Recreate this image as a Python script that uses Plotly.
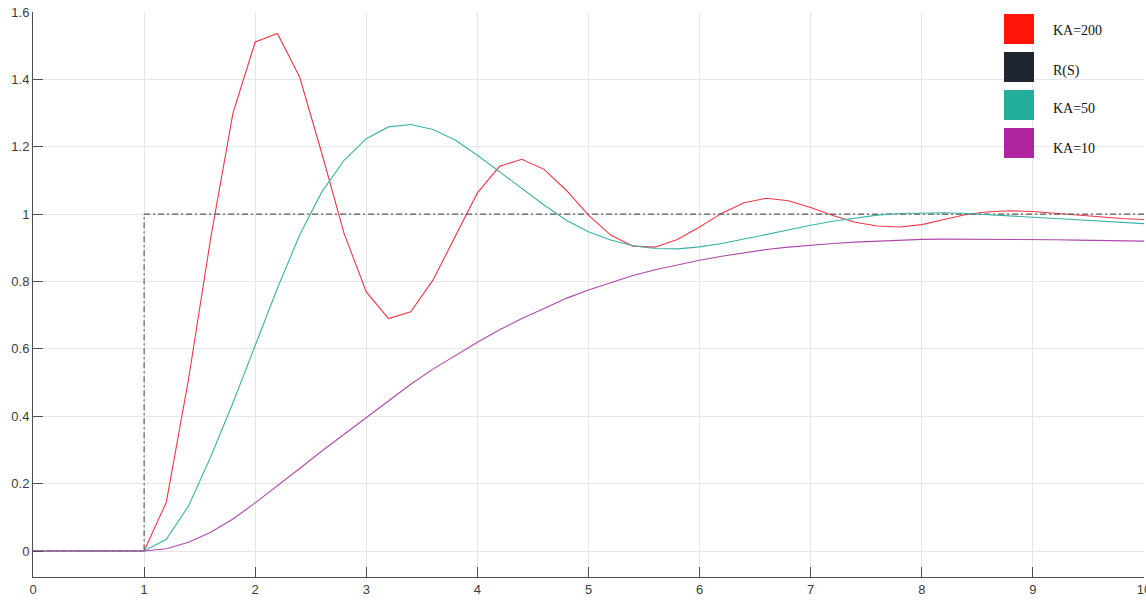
import plotly.graph_objects as go

# Sampled step responses (t in seconds, 0.2 s grid)
t = [round(0.2 * i, 1) for i in range(51)]

ka200 = [0, 0, 0, 0, 0, 0,
         0.145, 0.51, 0.93, 1.30, 1.511, 1.536, 1.407, 1.18, 0.943, 0.769,
         0.690, 0.710, 0.804, 0.933, 1.063, 1.142, 1.163, 1.133, 1.071, 0.997,
         0.938, 0.905, 0.902, 0.925, 0.962, 1.003, 1.034, 1.047, 1.040, 1.020,
         0.996, 0.976, 0.965, 0.962, 0.969, 0.984, 0.999, 1.007, 1.010, 1.008,
         1.003, 0.997, 0.991, 0.987, 0.984]

ka50 = [0, 0, 0, 0, 0, 0,
        0.035, 0.134, 0.28, 0.44, 0.61, 0.78, 0.938, 1.066, 1.160, 1.224,
        1.259, 1.266, 1.251, 1.220, 1.175, 1.126, 1.076, 1.027, 0.982, 0.948,
        0.923, 0.906, 0.898, 0.897, 0.903, 0.913, 0.926, 0.940, 0.954, 0.967,
        0.979, 0.989, 0.997, 1.002, 1.004, 1.004, 1.002, 0.999, 0.995, 0.991,
        0.987, 0.983, 0.979, 0.975, 0.972]

ka10 = [0, 0, 0, 0, 0, 0,
        0.007, 0.026, 0.056, 0.095, 0.143, 0.193, 0.245, 0.297, 0.347, 0.397,
        0.447, 0.495, 0.540, 0.580, 0.620, 0.657, 0.690, 0.720, 0.750, 0.775,
        0.797, 0.818, 0.835, 0.850, 0.863, 0.875, 0.886, 0.895, 0.902, 0.908,
        0.913, 0.917, 0.920, 0.923, 0.925, 0.926, 0.926, 0.926, 0.926, 0.925,
        0.924, 0.923, 0.922, 0.921, 0.920]

# Unit step input
step_t = [0, 1, 1, 10]
step_r = [0, 0, 1, 1]

names = ["KA=200", "R(S)", "KA=50", "KA=10"]
line_colors = ["#EE3646", "#555555", "#3AB3A3", "#AD4AAB"]
key_colors = ["#FF1507", "#1F2630", "#23AE9C", "#B0249E"]

fig = go.Figure()
fig.add_trace(go.Scatter(x=t, y=ka200, mode="lines", name=names[0],
                         line=dict(color=line_colors[0], width=1.1)))
fig.add_trace(go.Scatter(x=step_t, y=step_r, mode="lines", name=names[1],
                         line=dict(color=line_colors[1], width=1.1,
                                   dash="6px,3px,2px,3px")))
fig.add_trace(go.Scatter(x=t, y=ka50, mode="lines", name=names[2],
                         line=dict(color=line_colors[2], width=1.1)))
fig.add_trace(go.Scatter(x=t, y=ka10, mode="lines", name=names[3],
                         line=dict(color=line_colors[3], width=1.1)))

# Key: coloured squares with serif labels at the top right
W, H = 1146, 601
ml, mr, mt, mb = 33, 2, 12, 24
pw, ph = W - ml - mr, H - mt - mb


def px_x(p):
    return (p - ml) / pw


def px_y(p):
    return (H - mb - p) / ph


shapes = []
annotations = []
sq_tops = [14, 52, 90, 128]
label_mid = [31, 71, 109, 148]
for name, col, top, mid in zip(names, key_colors, sq_tops, label_mid):
    shapes.append(dict(type="rect", xref="paper", yref="paper",
                       x0=px_x(1004), x1=px_x(1034),
                       y0=px_y(top + 30), y1=px_y(top),
                       fillcolor=col, line=dict(width=0), layer="above"))
    annotations.append(dict(xref="paper", yref="paper", x=px_x(1051),
                            y=px_y(mid), text=name, showarrow=False,
                            xanchor="left", yanchor="middle",
                            font=dict(family="Liberation Serif", size=14,
                                      color="#111111")))

axis_style = dict(showgrid=True, gridcolor="#E6E6E6", gridwidth=1,
                  zeroline=False, showline=True, linecolor="#505050",
                  linewidth=1, ticks="inside", ticklen=10, tickcolor="#505050",
                  automargin=False, ticklabeloverflow="allow",
                  tickfont=dict(family="Liberation Sans", size=13,
                                color="#3C3C3C"))

fig.update_layout(
    width=W, height=H,
    margin=dict(l=ml, r=mr, t=mt, b=mb, autoexpand=False),
    paper_bgcolor="white", plot_bgcolor="white",
    showlegend=False,
    shapes=shapes, annotations=annotations,
    font=dict(family="Liberation Sans", size=13, color="#3C3C3C"),
    xaxis=dict(range=[0, 10], tickvals=list(range(11)), **axis_style),
    yaxis=dict(range=[-0.077, 1.6],
               tickvals=[0, 0.2, 0.4, 0.6, 0.8, 1, 1.2, 1.4, 1.6],
               ticktext=["0", "0.2", "0.4", "0.6", "0.8", "1", "1.2", "1.4", "1.6"],
               **axis_style),
)

fig.write_html("out.html")
